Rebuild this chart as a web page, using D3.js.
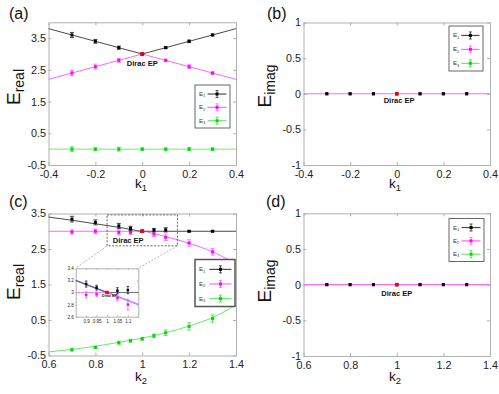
<!DOCTYPE html>
<html><head><meta charset="utf-8">
<script src="https://cdn.jsdelivr.net/npm/d3@7"></script>
<style>
html,body{margin:0;padding:0;background:#fff;}
svg{display:block;font-family:"Liberation Sans",Arial,sans-serif;}
</style></head><body><svg id="c" width="499" height="394"></svg>
<script>
// ---------------- data ----------------
const k1 = [-0.3,-0.2,-0.1,0,0.1,0.2,0.3];
const k1Ticks = [-0.4,-0.2,0,0.2,0.4];
const k1TickLabels = ["-0.4","-0.2","0","0.2","0.4"];
const realTicks = [-0.5,0.5,1.5,2.5,3.5];
const realTickLabels = ["-0.5","0.5","1.5","2.5","3.5"];
const imagTicks = [-1,-0.5,0,0.5,1];
const imagTickLabels = ["-1","-0.5","0","0.5","1"];
const k2Ticks = [0.6,0.8,1,1.2,1.4];
const k2TickLabels = ["0.6","0.8","1","1.2","1.4"];
const seriesNames = ["1","2","3"];

// (a) real part vs k1
const aE1 = [3.6,3.4,3.2,3.0,3.2,3.4,3.6];
const aE1Err = [0.08,0.06,0.05,0.03,0.03,0.04,0.03];
const aE2 = [2.4,2.6,2.8,3.0,2.8,2.6,2.4];
const aE2Err = [0.08,0.08,0.06,0.03,0.04,0.06,0.04];
const aE3 = [0,0,0,0,0,0,0];
const aE3Err = [0.07,0.04,0.06,0.04,0.03,0.05,0.04];
const aLineK = [-0.4,0,0.4];
const aE1Line = [3.8,3.0,3.8];
const aE2Line = [2.2,3.0,2.2];
const aE3Line = [0,0,0];

// (b) imaginary part vs k1
const bE = [0,0,0,0,0,0,0];
const bLineK = [-0.4,0.4];
const bLine = [0,0];

// (c) real part vs k2
const k2 = [0.7,0.8,0.9,0.95,1.0,1.05,1.1,1.2,1.3];
const cE1 = [3.34,3.25,3.15,3.08,3.0,3.03,3.04,3.0,3.0];
const cE1Err = [0.08,0.07,0.07,0.06,0.03,0.05,0.06,0.02,0.02];
const cE2 = [2.98,3.0,2.97,2.97,3.0,2.92,2.83,2.67,2.42];
const cE2Err = [0.06,0.06,0.07,0.06,0.03,0.07,0.09,0.09,0.09];
const cE3 = [-0.34,-0.27,-0.14,-0.085,-0.03,0.056,0.14,0.32,0.54];
const cE3Err = [0.03,0.03,0.04,0.04,0.04,0.05,0.08,0.1,0.1];
const cLineK = [0.6,0.7,0.8,0.9,0.95,1.0,1.05,1.1,1.2,1.3,1.4];
const cE1Line = [3.40,3.31,3.21,3.11,3.055,3.0,3.0,3.0,3.0,3.0,3.0];
const cE2Line = [3.0,3.0,3.0,3.0,3.0,3.0,2.93,2.85,2.66,2.42,2.08];
const cE3Line = [-0.40,-0.33,-0.24,-0.13,-0.07,-0.01,0.06,0.14,0.33,0.57,0.92];

// (c) inset (zoom near EP)
const insetTicksX = [0.9,0.95,1,1.05,1.1];
const insetTickLabelsX = ["0.9","0.95","1","1.05","1.1"];
const insetTicksY = [2.6,2.8,3,3.2,3.4];
const insetTickLabelsY = ["2.6","2.8","3","3.2","3.4"];
const insetK = [0.9,0.95,1.05,1.1];
const insetE1 = [3.14,3.08,3.03,3.04];
const insetE1Err = [0.05,0.04,0.05,0.06];
const insetE2 = [2.96,2.97,2.91,2.80];
const insetE2Err = [0.05,0.04,0.05,0.09];
const insetLineK = [0.85,1.0,1.15];
const insetE1Line = [3.2,3.0,3.0];
const insetE2Line = [3.0,3.0,2.8];
const insetFitLine = [3.2,3.0,2.8];

// (d) imaginary part vs k2
const k2d = [0.7,0.8,0.9,1.0,1.1,1.2,1.3];
const dE = [0,0,0,0,0,0,0];
const dLineK = [0.6,1.4];
const dLine = [0,0];

// ---------------- drawing ----------------
const svg = d3.select("#c");
const COL = {
  k:{m:"#000",l:"#4a4a4a",e:"#222"},
  m:{m:"#ff00ff",l:"#ff66ff",e:"#ff55ff"},
  g:{m:"#00d800",l:"#66ee66",e:"#33e033"},
  red:"#ff0000"
};
const AX = "#b0b0b0";

function styleAxis(sel, fs){
  sel.select(".domain").attr("stroke",AX);
  sel.selectAll(".tick line").attr("stroke",AX);
  sel.selectAll(".tick text").attr("fill","#222").attr("font-size",fs)
    .attr("font-family","'Liberation Sans',Arial,sans-serif");
  sel.attr("font-family",null).attr("font-size",null);
}

function makeFrame(g, x, y, o){
  const fs = o.fs || 10.8;
  const b = g.append("g").attr("transform",`translate(0,${y.range()[0]})`)
    .call(d3.axisBottom(x).tickValues(o.xt).tickFormat((d,i)=>o.xl[i]).tickSizeInner(-o.ts).tickSizeOuter(0).tickPadding(o.xpad||5));
  styleAxis(b, fs);
  const t = g.append("g").attr("transform",`translate(0,${y.range()[1]})`)
    .call(d3.axisTop(x).tickValues(o.xt).tickFormat("").tickSizeInner(-o.ts).tickSizeOuter(0));
  styleAxis(t, fs);
  const l = g.append("g").attr("transform",`translate(${x.range()[0]},0)`)
    .call(d3.axisLeft(y).tickValues(o.yt).tickFormat((d,i)=>o.yl[i]).tickSizeInner(-o.ts).tickSizeOuter(0).tickPadding(o.ypad||2.5));
  styleAxis(l, fs);
  const r = g.append("g").attr("transform",`translate(${x.range()[1]},0)`)
    .call(d3.axisRight(y).tickValues(o.yt).tickFormat("").tickSizeInner(-o.ts).tickSizeOuter(0));
  styleAxis(r, fs);
}

function drawLine(g, x, y, xs, ys, color, w, curve){
  const pts = xs.map((v,i)=>[v,ys[i]]);
  g.append("path").datum(pts)
    .attr("d", d3.line().x(d=>x(d[0])).y(d=>y(d[1])).curve(curve||d3.curveLinear))
    .attr("fill","none").attr("stroke",color).attr("stroke-width",w||1);
}

function drawPoints(g, x, y, xs, ys, errs, c, ms, cap){
  ms = ms||3; cap = cap||2;
  const gg = g.append("g");
  xs.forEach((xv,i)=>{
    const px = x(xv), py = y(ys[i]);
    if (errs){
      const e = errs[i];
      const y1 = y(ys[i]-e), y2 = y(ys[i]+e);
      gg.append("line").attr("x1",px).attr("x2",px).attr("y1",y1).attr("y2",y2).attr("stroke",c.e).attr("stroke-width",0.8);
      gg.append("line").attr("x1",px-cap).attr("x2",px+cap).attr("y1",y1).attr("y2",y1).attr("stroke",c.e).attr("stroke-width",0.8);
      gg.append("line").attr("x1",px-cap).attr("x2",px+cap).attr("y1",y2).attr("y2",y2).attr("stroke",c.e).attr("stroke-width",0.8);
    }
    gg.append("rect").attr("x",px-ms/2).attr("y",py-ms/2).attr("width",ms).attr("height",ms).attr("fill",c.m);
  });
}

function redPoint(g, x, y, xv, yv, ms){
  ms = ms||3.5;
  g.append("rect").attr("x",x(xv)-ms/2).attr("y",y(yv)-ms/2).attr("width",ms).attr("height",ms).attr("fill",COL.red);
}

function legend(x0, y0, w, h, sw, stroke){
  const g = svg.append("g");
  g.append("rect").attr("x",x0).attr("y",y0).attr("width",w).attr("height",h)
    .attr("fill","#fff").attr("stroke",stroke).attr("stroke-width",sw);
  const cols = [COL.k, COL.m, COL.g];
  const fr = [0.21,0.52,0.83];
  seriesNames.forEach((n,i)=>{
    const yy = y0 + h*fr[i];
    const t = g.append("text").attr("x",x0+4).attr("y",yy+2).attr("font-size",6).attr("fill","#333");
    t.append("tspan").text("E");
    t.append("tspan").attr("font-size",4).attr("dy",1.2).text(n);
    const lx1 = x0 + w*0.36, lx2 = x0 + w - 3.5, mx = (lx1+lx2)/2;
    g.append("line").attr("x1",lx1).attr("x2",lx2).attr("y1",yy).attr("y2",yy).attr("stroke",cols[i].l).attr("stroke-width",1.2);
    g.append("line").attr("x1",mx).attr("x2",mx).attr("y1",yy-3.5).attr("y2",yy+3.5).attr("stroke",cols[i].e).attr("stroke-width",0.8);
    g.append("line").attr("x1",mx-1.5).attr("x2",mx+1.5).attr("y1",yy-3.5).attr("y2",yy-3.5).attr("stroke",cols[i].e).attr("stroke-width",0.8);
    g.append("line").attr("x1",mx-1.5).attr("x2",mx+1.5).attr("y1",yy+3.5).attr("y2",yy+3.5).attr("stroke",cols[i].e).attr("stroke-width",0.8);
    g.append("rect").attr("x",mx-1.5).attr("y",yy-1.5).attr("width",3).attr("height",3).attr("fill",cols[i].m);
  });
}

function ylabel(cx, cy, sub){
  const g = svg.append("g").attr("transform",`translate(${cx},${cy}) rotate(-90)`);
  const t = g.append("text").attr("text-anchor","middle").attr("fill","#111").attr("font-size",19);
  t.append("tspan").text("E");
  t.append("tspan").attr("font-size",14).attr("dy",4).text(sub);
}
function xlabel(cx, by, sub){
  const t = svg.append("text").attr("x",cx).attr("y",by).attr("text-anchor","middle").attr("fill","#111").attr("font-size",13.5);
  t.append("tspan").text("k");
  t.append("tspan").attr("font-size",9.5).attr("dy",3).text(sub);
}
function panelLabel(x0, by, s){
  svg.append("text").attr("x",x0).attr("y",by).attr("font-size",16).attr("fill","#111").text(s);
}
function epLabel(g, x, y, xv, yv, fs){
  g.append("text").attr("x",x(xv)).attr("y",y(yv)).attr("text-anchor","middle").attr("dominant-baseline","central")
    .attr("font-size",fs).attr("font-weight","bold").attr("fill","#111").text("Dirac EP");
}

// ---- panel (a)
{
  const g = svg.append("g");
  const x = d3.scaleLinear().domain([-0.4,0.4]).range([48.5,236]);
  const y = d3.scaleLinear().domain([-0.5,4]).range([165,22.3]);
  makeFrame(g,x,y,{xt:k1Ticks,xl:k1TickLabels,yt:realTicks,yl:realTickLabels,ts:3});
  drawLine(g,x,y,aLineK,aE3Line,COL.g.l,1);
  drawLine(g,x,y,aLineK,aE2Line,COL.m.l,1);
  drawLine(g,x,y,aLineK,aE1Line,COL.k.l,1);
  drawPoints(g,x,y,k1,aE3,aE3Err,COL.g);
  drawPoints(g,x,y,k1,aE2,aE2Err,COL.m);
  drawPoints(g,x,y,k1,aE1,aE1Err,COL.k);
  redPoint(g,x,y,0,3.0);
  epLabel(g,x,y,0.0,2.7,7.5);
}
// ---- panel (b)
{
  const g = svg.append("g");
  const x = d3.scaleLinear().domain([-0.4,0.4]).range([303.5,490]);
  const y = d3.scaleLinear().domain([-1,1]).range([165,22.5]);
  makeFrame(g,x,y,{xt:k1Ticks,xl:k1TickLabels,yt:imagTicks,yl:imagTickLabels,ts:3});
  drawLine(g,x,y,bLineK,bLine,COL.m.l,1.2);
  drawPoints(g,x,y,k1,bE,null,COL.g);
  drawPoints(g,x,y,k1,bE,null,COL.m);
  drawPoints(g,x,y,k1,bE,null,COL.k);
  redPoint(g,x,y,0,0);
  epLabel(g,x,y,0.01,-0.09,7.5);
}
// ---- panel (c)
{
  const g = svg.append("g");
  const x = d3.scaleLinear().domain([0.6,1.4]).range([48.5,236]);
  const y = d3.scaleLinear().domain([-0.5,3.5]).range([355.5,213.5]);
  makeFrame(g,x,y,{xt:k2Ticks,xl:k2TickLabels,yt:realTicks,yl:realTickLabels,ts:3});
  drawLine(g,x,y,cLineK,cE3Line,COL.g.l,1,d3.curveMonotoneX);
  drawLine(g,x,y,cLineK,cE2Line,COL.m.l,1,d3.curveMonotoneX);
  drawLine(g,x,y,cLineK,cE1Line,COL.k.l,1,d3.curveMonotoneX);
  drawPoints(g,x,y,k2,cE3,cE3Err,COL.g);
  drawPoints(g,x,y,k2,cE2,cE2Err,COL.m);
  drawPoints(g,x,y,k2,cE1,cE1Err,COL.k);
  redPoint(g,x,y,1.0,3.0);
  epLabel(g,x,y,0.94,2.73,7.5);
  // zoom box
  const bx1 = x(0.85), bx2 = x(1.15), by1 = y(3.46), by2 = y(2.59);
  g.append("rect").attr("x",bx1).attr("y",by1).attr("width",bx2-bx1).attr("height",by2-by1)
    .attr("fill","none").attr("stroke","#555").attr("stroke-width",0.9).attr("stroke-dasharray","2,1.5");
  // inset
  const ix = d3.scaleLinear().domain([0.85,1.15]).range([75.7,138.3]);
  const iy = d3.scaleLinear().domain([2.6,3.4]).range([316.7,268.3]);
  g.append("line").attr("x1",bx1).attr("y1",by2).attr("x2",ix.range()[0]).attr("y2",iy.range()[1])
    .attr("stroke","#999").attr("stroke-width",0.7).attr("stroke-dasharray","2,1.5");
  g.append("line").attr("x1",bx2).attr("y1",by2).attr("x2",ix.range()[1]).attr("y2",iy.range()[1])
    .attr("stroke","#999").attr("stroke-width",0.7).attr("stroke-dasharray","2,1.5");
  const ig = g.append("g");
  ig.append("rect").attr("x",ix.range()[0]).attr("y",iy.range()[1]).attr("width",ix.range()[1]-ix.range()[0]).attr("height",iy.range()[0]-iy.range()[1]).attr("fill","#fff");
  makeFrame(ig,ix,iy,{xt:insetTicksX,xl:insetTickLabelsX,yt:insetTicksY,yl:insetTickLabelsY,ts:1.5,fs:4.5,xpad:3,ypad:2});
  drawLine(ig,ix,iy,insetLineK,insetFitLine,"#9a9aff",1.6);
  drawLine(ig,ix,iy,insetLineK,insetE2Line,COL.m.l,0.8);
  drawLine(ig,ix,iy,insetLineK,insetE1Line,"#333366",0.7);
  drawPoints(ig,ix,iy,insetK,insetE2,insetE2Err,COL.m,2.5,1.3);
  drawPoints(ig,ix,iy,insetK,insetE1,insetE1Err,COL.k,2.5,1.3);
  redPoint(ig,ix,iy,1.0,3.0,3.5);
  epLabel(ig,ix,iy,1.012,2.935,3.6);
}
// ---- panel (d)
{
  const g = svg.append("g");
  const x = d3.scaleLinear().domain([0.6,1.4]).range([303.5,490]);
  const y = d3.scaleLinear().domain([-1,1]).range([356,213.3]);
  makeFrame(g,x,y,{xt:k2Ticks,xl:k2TickLabels,yt:imagTicks,yl:imagTickLabels,ts:3});
  drawLine(g,x,y,dLineK,dLine,COL.m.l,1.2);
  drawPoints(g,x,y,k2d,dE,null,COL.g);
  drawPoints(g,x,y,k2d,dE,null,COL.m);
  drawPoints(g,x,y,k2d,dE,null,COL.k);
  redPoint(g,x,y,1.0,0);
  epLabel(g,x,y,1.0,-0.12,7.5);
}

// legends
legend(195,85,35,43,1,"#666");
legend(449,26,34,45,1,"#666");
legend(195,259.5,40,47,1.5,"#555");
legend(449,218.5,35,43,1,"#666");

// labels
panelLabel(9,19,"(a)");
panelLabel(267,19,"(b)");
panelLabel(9,207,"(c)");
panelLabel(266,207,"(d)");
ylabel(20,87,"real");
ylabel(271,86,"imag");
ylabel(20,282,"real");
ylabel(271,281,"imag");
xlabel(141,188,"1");
xlabel(395,188,"1");
xlabel(141,381,"2");
xlabel(395,381,"2");
</script></body></html>
